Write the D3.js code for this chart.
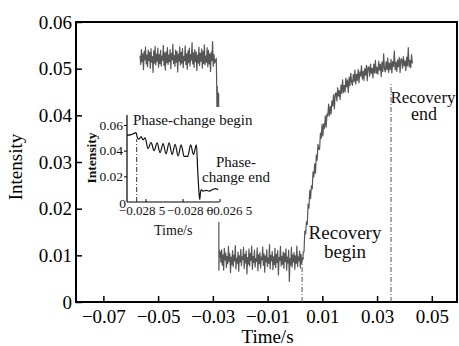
<!DOCTYPE html>
<html><head><meta charset="utf-8">
<script src="https://cdn.jsdelivr.net/npm/d3@7"></script>
<style>
html,body{margin:0;padding:0;background:#fff;}
svg{display:block;}
svg text{font-family:"Liberation Serif","Times New Roman",serif;}
</style></head>
<body><svg id="c" width="459" height="346"></svg>
<script>
// ---------- data ----------
const xTickValues = [-0.07, -0.05, -0.03, -0.01, 0.01, 0.03, 0.05];
const xTickLabels = ["−0.07", "−0.05", "−0.03", "−0.01", "0.01", "0.03", "0.05"];
const yTickValues = [0, 0.01, 0.02, 0.03, 0.04, 0.05, 0.06];
const yTickLabels = ["0", "0.01", "0.02", "0.03", "0.04", "0.05", "0.06"];

// sampled signal before phase change (start time, sample interval, values)
const seg1Start = -0.0566, seg1Step = 0.00025;
const seg1Values = [
0.0528,0.0509,0.0541,0.0515,0.0532,0.0498,0.0537,0.0519,0.0546,0.0510,
0.0529,0.0504,0.0540,0.0517,0.0535,0.0501,0.0543,0.0514,0.0526,0.0492,
0.0538,0.0512,0.0548,0.0508,0.0531,0.0516,0.0544,0.0503,0.0530,0.0511,
0.0539,0.0506,0.0527,0.0518,0.0550,0.0507,0.0534,0.0497,0.0536,0.0513,
0.0545,0.0509,0.0529,0.0515,0.0541,0.0500,0.0533,0.0519,0.0552,0.0511,
0.0528,0.0505,0.0540,0.0514,0.0537,0.0493,0.0531,0.0516,0.0547,0.0508,
0.0535,0.0512,0.0543,0.0502,0.0526,0.0517,0.0549,0.0509,0.0532,0.0499,
0.0538,0.0513,0.0544,0.0506,0.0530,0.0518,0.0556,0.0510,0.0534,0.0503,
0.0541,0.0515,0.0536,0.0496,0.0529,0.0512,0.0546,0.0507,0.0533,0.0516,
0.0542,0.0501,0.0537,0.0511,0.0551,0.0508,0.0527,0.0514,0.0545,0.0504,
0.0539,0.0510,0.0532,0.0494,0.0535,0.0517,0.0558,0.0505,0.0530,0.0512];

// phase change as seen at the main plot's resolution
const dropTimes  = [-0.02875,-0.02862,-0.02850,-0.02838,-0.02825,-0.02812,-0.02800,-0.02788,-0.02778,-0.02765,-0.02752];
const dropValues = [0.0522,0.0478,0.0415,0.0462,0.0372,0.0448,0.0356,0.0446,0.0068,0.0112,0.0096];

// after phase change
const seg2Start = -0.0273, seg2Step = 0.00025;
const seg2Values = [
0.0108,0.0085,0.0112,0.0079,0.0101,0.0068,0.0115,0.0090,0.0105,0.0074,
0.0098,0.0082,0.0119,0.0087,0.0103,0.0063,0.0096,0.0080,0.0110,0.0076,
0.0100,0.0088,0.0121,0.0071,0.0094,0.0083,0.0107,0.0066,0.0099,0.0086,
0.0113,0.0078,0.0097,0.0091,0.0117,0.0072,0.0102,0.0084,0.0109,0.0060,
0.0095,0.0081,0.0114,0.0077,0.0104,0.0089,0.0120,0.0070,0.0098,0.0085,
0.0111,0.0075,0.0093,0.0087,0.0116,0.0067,0.0101,0.0082,0.0106,0.0073,
0.0096,0.0090,0.0118,0.0079,0.0103,0.0064,0.0099,0.0086,0.0112,0.0076,
0.0094,0.0083,0.0123,0.0071,0.0100,0.0088,0.0108,0.0069,0.0097,0.0080,
0.0115,0.0074,0.0102,0.0085,0.0110,0.0058,0.0095,0.0089,0.0119,0.0077,
0.0098,0.0081,0.0107,0.0072,0.0104,0.0087,0.0114,0.0068,0.0096,0.0084,
0.0111,0.0044,0.0093,0.0079,0.0117,0.0075,0.0101,0.0086,0.0106,0.0070,
0.0099,0.0083,0.0120,0.0076,0.0097,0.0088,0.0109,0.0073,0.0102,0.0082,
0.0095,0.0091];

// recovery
const seg3Start = 0.003, seg3Step = 0.0003;
const seg3Values = [
0.0107,0.0107,0.0152,0.0146,0.0172,0.0166,0.0210,0.0201,0.0239,0.0222,
0.0249,0.0242,0.0279,0.0268,0.0296,0.0276,0.0315,0.0304,0.0338,0.0327,
0.0328,0.0362,0.0351,0.0381,0.0356,0.0382,0.0372,0.0399,0.0375,0.0403,
0.0398,0.0424,0.0399,0.0419,0.0403,0.0431,0.0420,0.0444,0.0414,0.0446,
0.0448,0.0431,0.0459,0.0441,0.0453,0.0434,0.0465,0.0447,0.0476,0.0449,
0.0464,0.0450,0.0480,0.0461,0.0476,0.0449,0.0482,0.0464,0.0490,0.0471,
0.0464,0.0488,0.0472,0.0497,0.0467,0.0488,0.0475,0.0498,0.0470,0.0493,
0.0484,0.0506,0.0478,0.0495,0.0475,0.0500,0.0486,0.0507,0.0474,0.0504,
0.0503,0.0484,0.0510,0.0490,0.0501,0.0480,0.0510,0.0491,0.0518,0.0490,
0.0503,0.0488,0.0516,0.0497,0.0510,0.0483,0.0514,0.0494,0.0532,0.0500,
0.0493,0.0515,0.0498,0.0523,0.0492,0.0512,0.0498,0.0520,0.0491,0.0515,
0.0505,0.0538,0.0498,0.0514,0.0494,0.0519,0.0504,0.0524,0.0492,0.0521,
0.0520,0.0501,0.0526,0.0506,0.0517,0.0496,0.0525,0.0506,0.0545,0.0504,
0.0518,0.0502,0.0530,0.0511];

// marker lines [time, top value]
const recoveryBegin = [0.0026, 0.0088];
const recoveryEnd = [0.0351, 0.0471];

// inset: phase change zoomed in
const phaseTimes = [-0.028750,-0.028696,-0.028655,-0.028628,-0.028608,-0.028587,-0.028560,-0.028533,
-0.028506,-0.028465,-0.028425,-0.028384,-0.028343,-0.028303,-0.028262,-0.028222,-0.028181,-0.028140,
-0.028100,-0.028059,-0.028018,-0.027978,-0.027930,-0.027890,-0.027852,-0.027811,-0.027795,-0.027772,
-0.027766,-0.027758,-0.027747,-0.027720,-0.027680,-0.027639,-0.027598,-0.027558,-0.027517];
const phaseValues = [0.0520,0.0525,0.0535,0.0540,0.0500,0.0490,0.0510,0.0485,
0.0500,0.0415,0.0465,0.0400,0.0460,0.0385,0.0455,0.0375,0.0460,0.0370,
0.0450,0.0360,0.0445,0.0355,0.0355,0.0445,0.0370,0.0445,0.0250,0.0040,
0.0020,0.0070,0.0095,0.0085,0.0090,0.0085,0.0095,0.0105,0.0095];
const insetXTickValues = [-0.0285, -0.0280, -0.0275];
const insetXTickLabels = ["−0.028 5", "−0.028 0", "−0.026 5"];
const insetYTickValues = [0, 0.02, 0.04, 0.06];
const insetYTickLabels = ["0", "0.02", "0.04", "0.06"];
const phaseBegin = [-0.028619, 0.049];

// ---------- build ----------
function sampled(start, step, vals){ return vals.map((v,i)=>({t:start+i*step, v:v})); }
const trace = [].concat(
  sampled(seg1Start, seg1Step, seg1Values),
  dropTimes.map((t,i)=>({t:t, v:dropValues[i]})),
  sampled(seg2Start, seg2Step, seg2Values),
  sampled(seg3Start, seg3Step, seg3Values)
);
const insetData = phaseTimes.map((t,i)=>({t:t, v:phaseValues[i]}));

const svg = d3.select("#c");
const L = 76, R = 457, T = 22, B = 302;
const x = d3.scaleLinear().domain([-0.08, 0.0592]).range([L, R]);
const y = d3.scaleLinear().domain([0, 0.06]).range([B, T]);

// axes
const xAx = svg.append("g").attr("transform", `translate(0,${B})`)
  .call(d3.axisBottom(x).tickValues(xTickValues).tickFormat((d,i)=>xTickLabels[i]).tickSizeInner(-6).tickSizeOuter(0));
xAx.select(".domain").remove();
xAx.selectAll("line").attr("stroke","#000").attr("stroke-width",1.5);
xAx.selectAll("text").attr("y",21).attr("dy",null).style("font-size","19px").attr("fill","#000");

const yAx = svg.append("g").attr("transform", `translate(${L},0)`)
  .call(d3.axisLeft(y).tickValues(yTickValues).tickFormat((d,i)=>yTickLabels[i]).tickSizeInner(-6).tickSizeOuter(0).tickPadding(4));
yAx.select(".domain").remove();
yAx.selectAll("line").attr("stroke","#000").attr("stroke-width",1.5);
yAx.selectAll("text").style("font-size","19px").attr("fill","#000");

svg.append("rect").attr("x",L).attr("y",T).attr("width",R-L).attr("height",B-T)
  .attr("fill","none").attr("stroke","#000").attr("stroke-width",2);

svg.append("text").attr("x",(L+R)/2+1).attr("y",343).attr("text-anchor","middle")
  .style("font-size","19px").attr("fill","#000").text("Time/s");
svg.append("text").attr("transform","translate(22,167) rotate(-90)").attr("text-anchor","middle")
  .style("font-size","19px").attr("fill","#000").text("Intensity");

// trace
const line = d3.line().x(d=>x(d.t)).y(d=>y(d.v));
svg.append("path").datum(trace).attr("d",line).attr("fill","none")
  .attr("stroke","#1e1e1e").attr("stroke-opacity",0.75).attr("stroke-width",1.2).attr("stroke-linejoin","round");

// marker lines
[recoveryBegin, recoveryEnd].forEach(m=>{
  svg.append("line").attr("x1",x(m[0])).attr("x2",x(m[0])).attr("y1",y(0)).attr("y2",y(m[1]))
    .attr("stroke","#555").attr("stroke-width",1).attr("stroke-dasharray","5,2,1,2");
});

svg.append("text").attr("x",345).attr("y",239).attr("text-anchor","middle").style("font-size","19px").attr("fill","#111").text("Recovery");
svg.append("text").attr("x",345).attr("y",258).attr("text-anchor","middle").style("font-size","19px").attr("fill","#111").text("begin");
svg.append("text").attr("x",423).attr("y",103).attr("text-anchor","middle").style("font-size","17px").attr("fill","#111").text("Recovery");
svg.append("text").attr("x",424).attr("y",120).attr("text-anchor","middle").style("font-size","18px").attr("fill","#111").text("end");

// ---------- inset ----------
const iL = 127, iR = 219.5, iT = 115, iB = 202;
svg.append("rect").attr("x",84).attr("y",107).attr("width",221-84).attr("height",222-107).attr("fill","#fff");
const ix = d3.scaleLinear().domain([-0.02875, -0.0275]).range([iL, iR]);
const iy = d3.scaleLinear().domain([0, 0.06]).range([iB, 125]);
const ig = svg.append("g");

ig.append("path").datum(insetData)
  .attr("d", d3.line().x(d=>ix(d.t)).y(d=>iy(d.v)).curve(d3.curveMonotoneX))
  .attr("fill","none").attr("stroke","#111").attr("stroke-width",1.2);

ig.append("line").attr("x1",ix(phaseBegin[0])).attr("x2",ix(phaseBegin[0])).attr("y1",iy(0)).attr("y2",iy(phaseBegin[1]))
  .attr("stroke","#333").attr("stroke-width",1).attr("stroke-dasharray","5,2,1,2");

ig.append("line").attr("x1",iL).attr("x2",iL).attr("y1",iT).attr("y2",iB).attr("stroke","#000").attr("stroke-width",1.2);
ig.append("line").attr("x1",iL).attr("x2",iR).attr("y1",iB).attr("y2",iB).attr("stroke","#000").attr("stroke-width",1.2);

const ixAx = ig.append("g").attr("transform",`translate(0,${iB})`)
  .call(d3.axisBottom(ix).tickValues(insetXTickValues).tickFormat((d,i)=>insetXTickLabels[i]).tickSizeInner(-3).tickSizeOuter(0));
ixAx.select(".domain").remove();
ixAx.selectAll("line").attr("stroke","#000");
const labelShift = [-4, 7, 9];
ixAx.selectAll("text").attr("y",13).attr("dy",null).attr("dx",(d,i)=>labelShift[i])
  .style("font-size","13px").attr("fill","#111");

const iyAx = ig.append("g").attr("transform",`translate(${iL},0)`)
  .call(d3.axisLeft(iy).tickValues(insetYTickValues).tickFormat((d,i)=>insetYTickLabels[i]).tickSizeInner(3).tickSizeOuter(0).tickPadding(1));
iyAx.select(".domain").remove();
iyAx.selectAll("line").attr("stroke","#000").filter(d=>d===0).remove();
iyAx.selectAll("text").style("font-size","13.5px").attr("fill","#111")
  .attr("dx",d=>d===0?3:0).attr("dy",d=>d===0?"0.4em":"0.32em");

ig.append("text").attr("x",(iL+iR)/2).attr("y",235).attr("text-anchor","middle").style("font-size","14px").attr("fill","#111").text("Time/s");
ig.append("text").attr("transform","translate(96,158) rotate(-90)").attr("text-anchor","middle")
  .style("font-size","13.5px").attr("font-weight","bold").attr("fill","#111").text("Intensity");
ig.append("text").attr("x",133).attr("y",124.5).style("font-size","15px").attr("fill","#111").text("Phase-change begin");
ig.append("text").attr("x",236).attr("y",166.7).attr("text-anchor","middle").style("font-size","15px").attr("fill","#111").text("Phase-");
ig.append("text").attr("x",236).attr("y",182).attr("text-anchor","middle").style("font-size","15px").attr("fill","#111").text("change end");
</script></body></html>
